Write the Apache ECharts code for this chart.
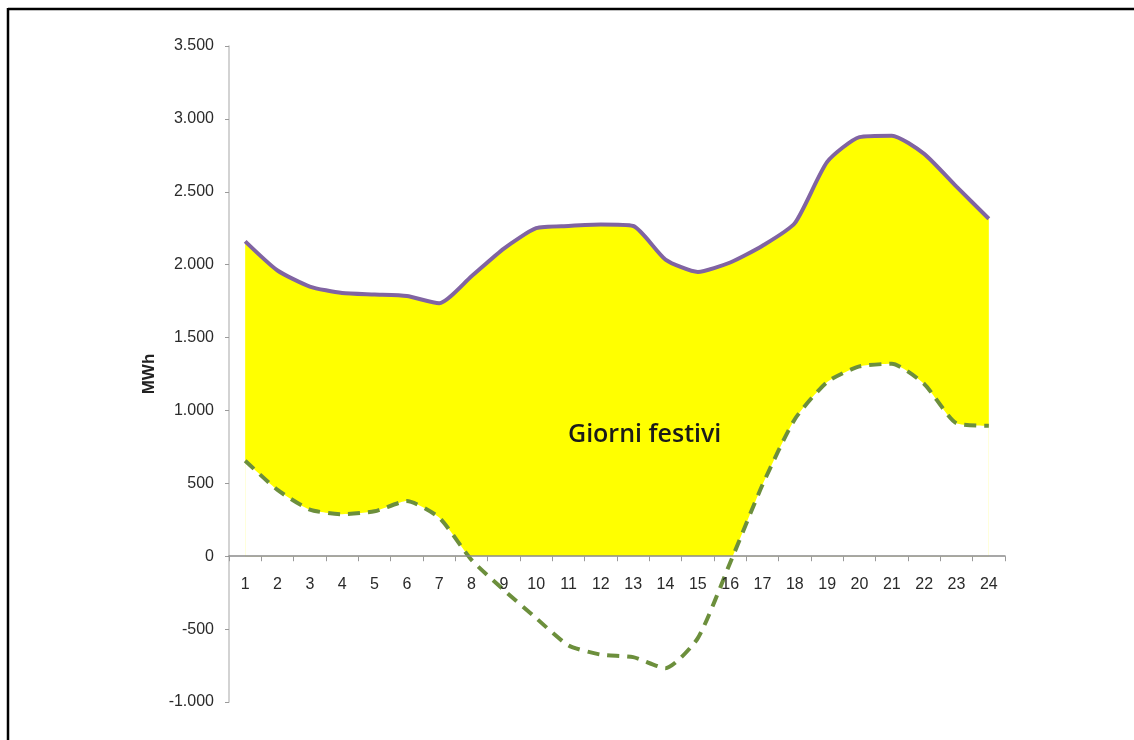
<!DOCTYPE html>
<html lang="it">
<head>
<meta charset="utf-8">
<title>Giorni festivi</title>
<script src="https://cdn.jsdelivr.net/npm/echarts@6/dist/echarts.min.js"></script>
<style>
  html, body { margin: 0; padding: 0; background: #fff; }
  #chart { width: 1134px; height: 740px; }
</style>
</head>
<body>
<div id="chart"></div>
<script type="text/javascript">
// ore del giorno
let hours = ['1','2','3','4','5','6','7','8','9','10','11','12','13','14','15','16','17','18','19','20','21','22','23','24'];
// curva superiore (viola)
let topLine = [2160, 1960, 1850, 1805, 1795, 1785, 1735, 1920, 2110, 2250, 2265, 2275, 2265, 2035, 1950, 2015, 2130, 2285, 2705, 2875, 2885, 2760, 2535, 2315];
// curva inferiore (verde tratteggiata)
let bottomLine = [655, 455, 320, 288, 308, 378, 265, -25, -232, -425, -612, -675, -692, -768, -562, -45, 490, 940, 1195, 1302, 1320, 1182, 912, 895];
let yTicks = { min: -1000, max: 3500, step: 500 };

function fmtNum(v){
    let s = Math.abs(v).toString().replace(/\B(?=(\d{3})+(?!\d))/g, '.');
    return (v < 0 ? '-' : '') + s;
}

let Chart = echarts.init(document.getElementById('chart'));

let option = {
    animation: false,
    grid: { left: 229, right: 129, top: 46, bottom: 38 },
    xAxis: {
        type: 'category',
        data: hours,
        boundaryGap: true,
        z: 10,
        axisLine: { onZero: true, lineStyle: { color: '#8a8a8a', width: 1.5 } },
        axisTick: { show: true, inside: false, length: 5, lineStyle: { color: '#9a9a9a' } },
        // le etichette restano in fondo alla griglia: le riporto sotto lo zero
        axisLabel: { margin: -125, color: '#2a2a2a', fontSize: 16, fontFamily: 'Liberation Sans' },
        splitLine: { show: false }
    },
    yAxis: {
        type: 'value',
        min: yTicks.min,
        max: yTicks.max,
        interval: yTicks.step,
        name: 'MWh',
        nameLocation: 'middle',
        nameRotate: 90,
        nameGap: 66,
        nameTextStyle: { fontWeight: 'bold', fontSize: 17, color: '#222', fontFamily: 'Liberation Sans' },
        axisLine: { show: true, lineStyle: { color: '#c4c4c4', width: 1.5 } },
        axisTick: { show: true, inside: false, length: 4, lineStyle: { color: '#9a9a9a' } },
        axisLabel: {
            margin: 15, color: '#2a2a2a', fontSize: 16, fontFamily: 'Liberation Sans',
            formatter: fmtNum
        },
        splitLine: { show: false }
    },
    graphic: [
        { type: 'line', shape: { x1: 8, y1: 9, x2: 1134, y2: 9 }, style: { stroke: '#000', lineWidth: 2.5 } },
        { type: 'line', shape: { x1: 8, y1: 8, x2: 8, y2: 740 }, style: { stroke: '#000', lineWidth: 2.5 } },
        {
            type: 'text', left: 568, top: 422, z: 20,
            style: { text: 'Giorni festivi', fill: '#1a1a1a', font: '600 25px "Open Sans"' }
        }
    ],
    series: [
        {
            name: 'top',
            type: 'line',
            data: topLine,
            smooth: 0.2,
            symbol: 'none',
            z: 2,
            lineStyle: { color: '#8064a2', width: 4 },
            areaStyle: { color: '#ffff00', opacity: 1 }
        },
        {
            name: 'bottom',
            type: 'line',
            data: bottomLine,
            smooth: 0.2,
            symbol: 'none',
            z: 3,
            lineStyle: { color: '#6c8f3c', width: 4, type: [12, 8] },
            areaStyle: { color: '#ffffff', opacity: 1 }
        }
    ]
};

Chart.setOption(option);
</script>
</body>
</html>
